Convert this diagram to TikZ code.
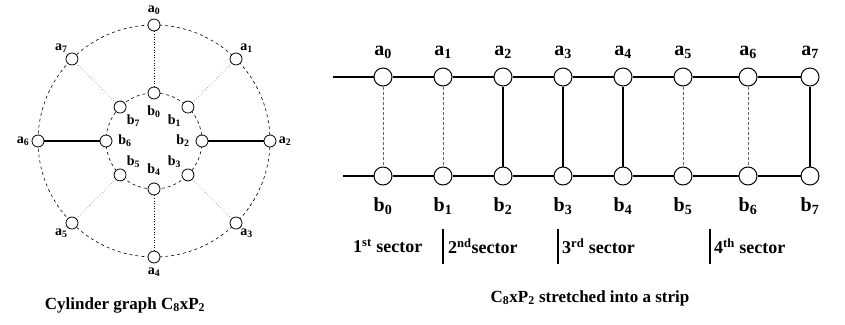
\documentclass[tikz,border=0pt]{standalone}
\usepackage{fontspec}
\setmainfont{Liberation Serif}
\usetikzlibrary{calc,positioning}
\tikzset{line width=.8pt,
  every node/.style={font=\bfseries},
  vertex/.style={circle,draw,fill=white,inner sep=0pt,minimum size=12pt,line width=.8pt},
  bigvertex/.style={vertex,minimum size=18pt,line width=1pt},
  rim/.style={draw,dashed,line width=.6pt},
  spoke/.style={draw,line width=1.2pt},
  faint/.style={draw=black!50,dotted,line width=.6pt},
  rail/.style={draw,line width=1.4pt},
  rung/.style={draw,line width=1.1pt},
  thinrung/.style={draw=black!60,densely dashed,line width=.6pt},
  bar/.style={draw,line width=1.6pt},
  lbl/.style={font=\bfseries\fontsize{14}{14}\selectfont,inner sep=1pt},
  biglbl/.style={font=\bfseries\fontsize{20}{20}\selectfont},
  sec/.style={font=\bfseries\fontsize{18}{18}\selectfont,inner sep=0pt,anchor=west},
  captext/.style={font=\bfseries\fontsize{17}{17}\selectfont}}

\begin{document}
\begin{tikzpicture}[x=1pt,y=-1pt]
\useasboundingbox (0,0) rectangle (845,324);
% cylinder C8 x P2
\coordinate (C) at (154,141);
\draw[rim] (C) circle[radius=116pt];\draw[rim] (C) circle[radius=48pt];
\foreach \k in {0,...,7}{
  \node[vertex] (ca\k) at ($(C)+(-90+45*\k:116)$) {};
  \node[vertex] (cb\k) at ($(C)+(-90+45*\k:48)$) {};
  \node[lbl] (cla\k) at ($(C)+(-90+45*\k:131)$) {a\textsubscript{\k}};
  \node[lbl] (clb\k) at ($(C)+(-90+45*\k:29)$) {b\textsubscript{\k}};}
\foreach \k in {1,3,5,7}{\draw[faint] (ca\k)--(cb\k);}
\draw[faint,draw=black] (ca0)--(cb0);\draw[faint,draw=black] (ca4)--(cb4);
\draw[spoke] (ca2)--(cb2);\draw[spoke] (ca6)--(cb6);
\node[captext] (capl) at (125,305) {Cylinder graph C\textsubscript{8}xP\textsubscript{2}};
% the strip
\coordinate (tl) at (333,77);\coordinate (bl) at (343,176);
\foreach \x [count=\i from 0] in {383,443,503,563,623,683,748,810}{
  \node[bigvertex] (sa\i) at (\x,77) {};
  \node[bigvertex] (sb\i) at (\x,176) {};
  \node[biglbl] (sla\i) at (\x,52) {a\textsubscript{\i}};
  \node[biglbl] (slb\i) at (\x,206) {b\textsubscript{\i}};}
\draw[rail] (tl)--(sa0);\draw[rail] (bl)--(sb0);
\foreach \i [evaluate=\i as \j using int(\i+1)] in {0,...,6}{
  \draw[rail] (sa\i)--(sa\j);\draw[rail] (sb\i)--(sb\j);}
\foreach \i in {2,3,4,7}{\draw[rung] (sa\i)--(sb\i);}
\foreach \i in {0,1,5,6}{\draw[thinrung] (sa\i)--(sb\i);}
\node[sec] (s1) at (353,246) {1\textsuperscript{st} sector};
\node[sec] (s2) at (448,246) {2\textsuperscript{nd}sector};
\node[sec] (s3) at (562,246) {3\textsuperscript{rd} sector};
\node[sec] (s4) at (714,246) {4\textsuperscript{th} sector};
\draw[bar] (443,229)--(443,264);\draw[bar] (558,229)--(558,264);\draw[bar] (710,229)--(710,264);
\node[captext] (capr) at (590,298) {C\textsubscript{8}xP\textsubscript{2} stretched into a strip};
\end{tikzpicture}
\end{document}
